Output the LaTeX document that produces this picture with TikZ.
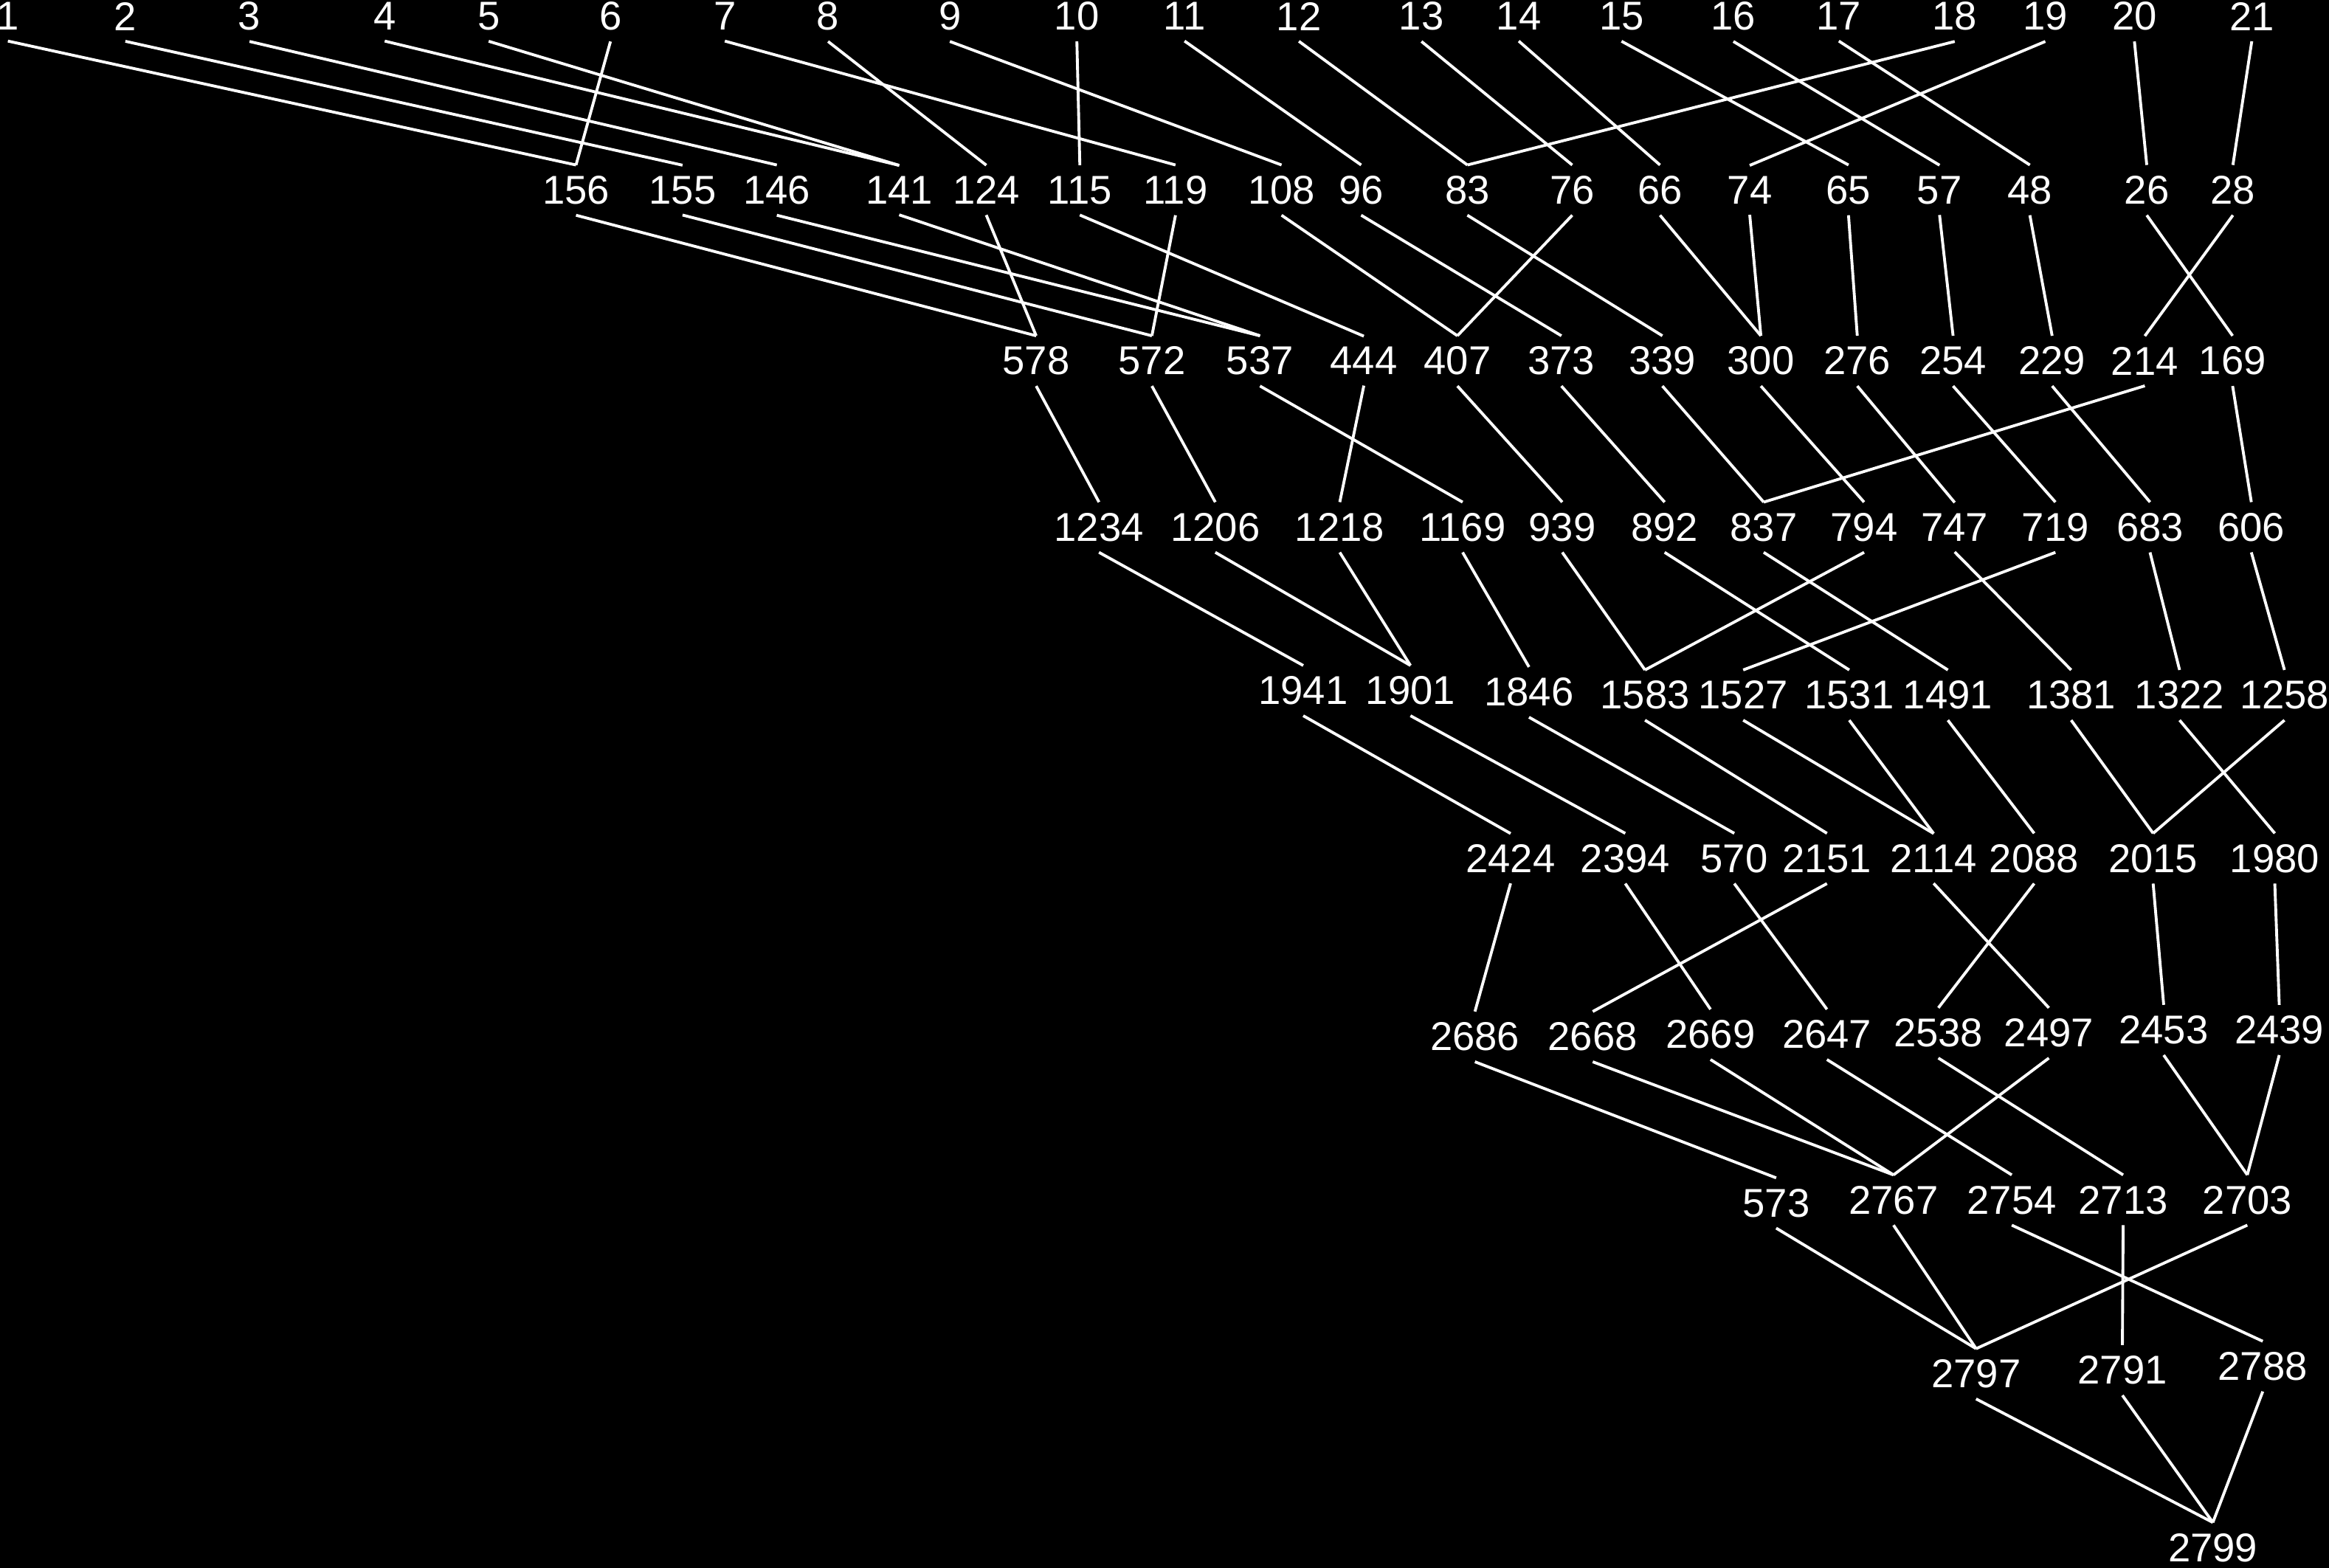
\documentclass[tikz,border=0pt]{standalone}
\usepackage{fontspec}
\setmainfont{Liberation Sans}
\begin{document}
\begin{tikzpicture}[x=0.020128cm, y=-0.020128cm,
    lab/.style={text=white, font=\fontsize{15.5}{18}\selectfont, inner xsep=1pt, inner ysep=4pt},
    arete/.style={white, line width=1.1pt}]
% fond noir
\fill[black] (0,0) rectangle (1568,1055.76);
\useasboundingbox (0,0) rectangle (1568,1055.76);

% rang 1
\foreach \v/\x in {1/5.3, 2/84.4, 3/168, 4/259, 5/329, 6/411, 7/488, 8/557.5, 9/639.5, 10/725,
    11/797.5, 12/874.5, 13/957, 14/1022.5, 15/1091.7, 16/1167, 17/1238, 18/1316, 19/1377, 20/1437, 21/1516}
    \node[lab] (n\v) at (\x,11) {\v};
% rang 2
\foreach \v/\x in {156/387.8, 155/459.5, 146/523, 141/605.4, 124/664, 115/727, 119/791.4, 108/862.8, 96/916.4,
    83/987.9, 76/1058.5, 66/1117.6, 74/1178, 65/1244.5, 57/1305.8, 48/1366.6, 26/1445.3, 28/1503.3}
    \node[lab] (n\v) at (\x,128) {\v};
% rang 3
\foreach \v/\x in {578/697.6, 572/775.5, 537/848.3, 444/918.2, 407/981.2, 373/1051.2, 339/1119.2,
    300/1185.5, 276/1250.4, 254/1314.9, 229/1381.6, 214/1444, 169/1503.1}
    \node[lab] (n\v) at (\x,243) {\v};
% rang 4
\foreach \v/\x in {1234/739.9, 1206/818.2, 1218/902, 1169/984.7, 939/1051.8, 892/1120.7,
    837/1187.4, 794/1255, 747/1316, 719/1383.8, 683/1447.5, 606/1515.7}
    \node[lab] (n\v) at (\x,355) {\v};
% rangs 5 a 10
\foreach \v/\x/\y in {1941/877.4/465, 1901/949.6/465, 1846/1029.4/466, 1583/1107.5/468, 1527/1173.6/468,
    1531/1245/468, 1491/1311.4/468, 1381/1394.4/468, 1322/1467.4/468, 1258/1538/468,
    2424/1017/578, 2394/1094.2/578, 570/1167.6/578, 2151/1230/578, 2114/1301.8/578,
    2088/1369.5/578, 2015/1449.6/578, 1980/1531.5/578,
    2686/993/698, 2668/1072.3/698, 2669/1151.6/696.5, 2647/1230/696.5, 2538/1305/695.5,
    2497/1379.4/695.5, 2453/1456.7/693.5, 2439/1534.5/693.5,
    573/1195.8/810, 2767/1274.8/808, 2754/1354.4/808, 2713/1429.4/808, 2703/1513/808,
    2797/1330.4/925, 2791/1428.9/922.6, 2788/1523.4/920,
    2799/1489.8/1042}
    \node[lab] (n\v) at (\x,\y) {\v};

% liaisons
\foreach \a/\b in {1/156, 2/155, 3/146, 4/141, 5/141, 6/156, 7/119, 8/124, 9/108, 10/115, 11/96,
    12/83, 13/76, 14/66, 15/65, 16/57, 17/48, 18/83, 19/74, 20/26, 21/28,
    156/578, 155/572, 146/537, 141/537, 124/578, 119/572, 115/444, 108/407, 96/373, 83/339,
    76/407, 66/300, 74/300, 65/276, 57/254, 48/229, 26/169, 28/214,
    578/1234, 572/1206, 537/1169, 444/1218, 407/939, 373/892, 339/837, 300/794, 276/747,
    254/719, 229/683, 214/837, 169/606,
    1234/1941, 1206/1901, 1218/1901, 1169/1846, 939/1583, 892/1531, 837/1491, 794/1583,
    747/1381, 719/1527, 683/1322, 606/1258,
    1941/2424, 1901/2394, 1846/570, 1583/2151, 1527/2114, 1531/2114, 1491/2088, 1381/2015,
    1322/1980, 1258/2015,
    2424/2686, 2394/2669, 570/2647, 2151/2668, 2114/2497, 2088/2538, 2015/2453, 1980/2439,
    2686/573, 2668/2767, 2669/2767, 2647/2754, 2538/2713, 2497/2767, 2453/2703, 2439/2703,
    573/2797, 2767/2797, 2754/2788, 2713/2791, 2703/2797,
    2797/2799, 2791/2799, 2788/2799}
    \draw[arete] (n\a.south) -- (n\b.north);
\end{tikzpicture}
\end{document}
